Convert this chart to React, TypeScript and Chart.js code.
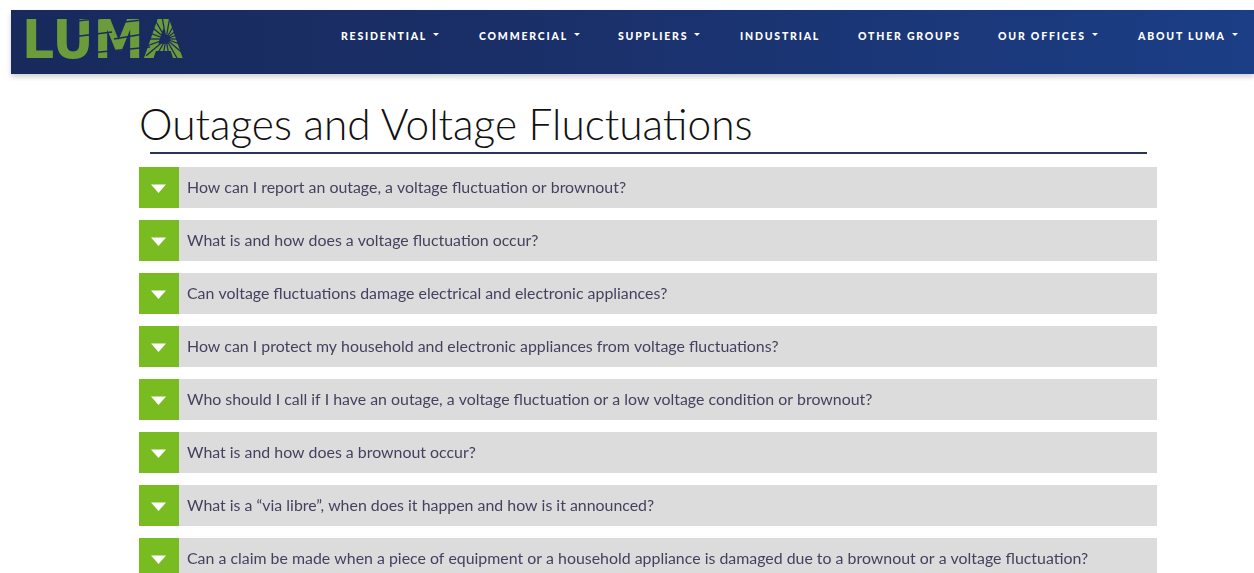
import React, { useEffect, useRef } from "react";
import { Chart, registerables } from "chart.js";

Chart.register(...registerables);

const navItems = ["RESIDENTIAL", "COMMERCIAL", "SUPPLIERS", "INDUSTRIAL", "OTHER GROUPS", "OUR OFFICES", "ABOUT LUMA"];
const navLeft = [341, 479, 618, 740, 858, 998, 1138];
const navCaret = [true, true, true, false, false, true, true];

const questions = [
  "How can I report an outage, a voltage fluctuation or brownout?",
  "What is and how does a voltage fluctuation occur?",
  "Can voltage fluctuations damage electrical and electronic appliances?",
  "How can I protect my household and electronic appliances from voltage fluctuations?",
  "Who should I call if I have an outage, a voltage fluctuation or a low voltage condition or brownout?",
  "What is and how does a brownout occur?",
  "What is a \u201cvia libre\u201d, when does it happen and how is it announced?",
  "Can a claim be made when a piece of equipment or a household appliance is damaged due to a brownout or a voltage fluctuation?",
];
const panelValues = [1, 1, 1, 1, 1, 1, 1, 1];

const TEXT_FONT = "Lato, 'Open Sans', sans-serif";

const accordionPlugin = {
  id: "accordion",
  afterDatasetsDraw(chart: any) {
    const ctx = chart.ctx;
    const meta = chart.getDatasetMeta(0);
    meta.data.forEach((bar: any, i: number) => {
      const h = bar.height;
      const top = bar.y - h / 2;
      const left = bar.base;
      const sq = 40;
      ctx.save();
      ctx.fillStyle = "#78bc21";
      ctx.fillRect(left, top, sq, h);
      const cx = left + sq / 2 - 0.5;
      const cy = bar.y + 1;
      ctx.fillStyle = "#ffffff";
      ctx.beginPath();
      ctx.moveTo(cx - 7.5, cy - 4);
      ctx.lineTo(cx + 7.5, cy - 4);
      ctx.lineTo(cx, cy + 4.5);
      ctx.closePath();
      ctx.fill();
      ctx.fillStyle = "#463f5e";
      ctx.font = `15.9px ${TEXT_FONT}`;
      ctx.textBaseline = "middle";
      ctx.fillText(chart.data.labels[i], left + 48, bar.y);
      ctx.restore();
    });
  },
};

function Accordion() {
  const ref = useRef<HTMLCanvasElement | null>(null);
  useEffect(() => {
    if (!ref.current) return;
    const chart = new Chart(ref.current, {
      type: "bar",
      data: {
        labels: questions,
        datasets: [
          {
            data: panelValues,
            backgroundColor: "#dcdcdc",
            borderWidth: 0,
            barPercentage: 41 / 53,
            categoryPercentage: 1,
          },
        ],
      },
      options: {
        indexAxis: "y",
        animation: false,
        responsive: true,
        maintainAspectRatio: false,
        layout: { padding: 0 },
        scales: {
          x: { display: false, min: 0, max: 1 },
          y: { display: false },
        },
        plugins: { legend: { display: false }, tooltip: { enabled: false } },
        events: [],
      },
      plugins: [accordionPlugin],
    } as any);
    return () => chart.destroy();
  }, []);
  return (
    <div style={{ position: "absolute", left: 139, top: 161, width: 1018, height: 424 }}>
      <canvas ref={ref} />
    </div>
  );
}

function Logo() {
  return (
    <svg width={170} height={46} style={{ position: "absolute", left: 20, top: 15 }}>
      <text
        x={2}
        y={43}
        fontFamily="'DejaVu Sans', sans-serif"
        fontWeight={900}
        fontSize={54}
        fill="#6c9b3b"
        textLength={161}
        lengthAdjust="spacingAndGlyphs"
      >
        LUMA
      </text>
      <g stroke="#1a2b5e" strokeWidth={1.6}>
        <line x1={48} y1={7} x2={84} y2={3} />
        <line x1={52} y1={22} x2={92} y2={17} />
        <line x1={96} y1={8} x2={130} y2={4} />
        <line x1={94} y1={24} x2={130} y2={18} />
        <line x1={70} y1={38} x2={130} y2={32} />
      </g>
      <g stroke="#1a2b5e" strokeWidth={1.3}>
        {[0, 20, 40, 60, 80, 100, 120, 140, 160, 180, 200, 220, 240, 260, 280, 300, 320, 340].map((a) => {
          const r = (a * Math.PI) / 180;
          return <line key={a} x1={146} y1={24} x2={146 + Math.cos(r) * 26} y2={24 + Math.sin(r) * 26} />;
        })}
      </g>
      <circle cx={146} cy={24} r={4} fill="#1a2b5e" />
    </svg>
  );
}

export default function App() {
  return (
    <div
      style={{
        position: "fixed",
        left: 0,
        top: 0,
        width: 1254,
        height: 573,
        overflow: "hidden",
        background: "#ffffff",
      }}
    >
      <div
        style={{
          position: "absolute",
          left: 11,
          top: 10,
          width: 1243,
          height: 64,
          background: "linear-gradient(90deg, #182a5c 0%, #1a2f68 40%, #1b3e86 100%)",
          boxShadow: "0 3px 5px rgba(0,0,0,0.18)",
        }}
      />
      <Logo />
      {navItems.map((t, i) => (
        <div
          key={t}
          style={{
            position: "absolute",
            left: navLeft[i],
            top: 29,
            color: "#ffffff",
            fontFamily: TEXT_FONT,
            fontWeight: 900,
            fontSize: 10.5,
            letterSpacing: 1.8,
            whiteSpace: "nowrap",
            lineHeight: "14px",
          }}
        >
          {t}
          {navCaret[i] ? (
            <span
              style={{
                display: "inline-block",
                marginLeft: 6,
                width: 0,
                height: 0,
                borderLeft: "3.5px solid transparent",
                borderRight: "3.5px solid transparent",
                borderTop: "3.5px solid #ffffff",
                verticalAlign: "middle",
                position: "relative",
                top: -3,
              }}
            />
          ) : null}
        </div>
      ))}
      <div
        style={{
          position: "absolute",
          left: 139,
          top: 96,
          fontFamily: TEXT_FONT,
          fontWeight: 300,
          fontSize: 42.4,
          color: "#111111",
          whiteSpace: "nowrap",
          lineHeight: "56px",
        }}
      >
        Outages and Voltage Fluctuations
      </div>
      <div
        style={{
          position: "absolute",
          left: 150,
          top: 152,
          width: 997,
          height: 2,
          background: "#2a3358",
        }}
      />
      <Accordion />
    </div>
  );
}
